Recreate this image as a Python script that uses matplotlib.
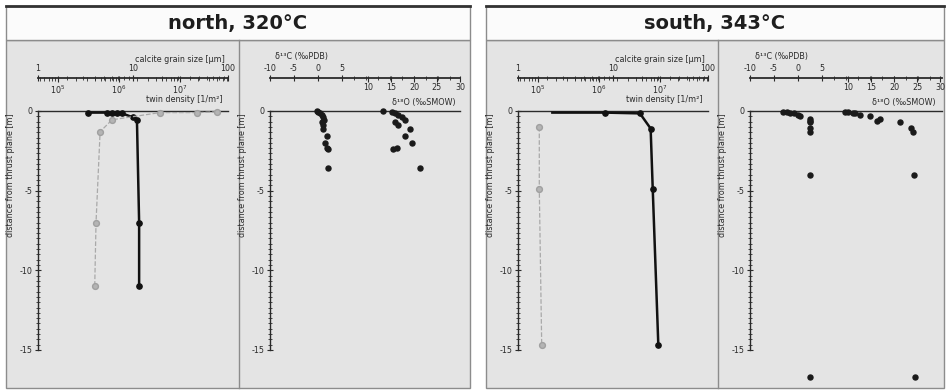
import matplotlib
matplotlib.use('Agg')
import matplotlib.pyplot as plt
from matplotlib.patches import Rectangle
from matplotlib.ticker import FixedLocator, LogLocator, NullLocator, NullFormatter
import numpy as np

# ---------------- data ----------------
# north, 320 °C : calcite grain size [µm] (black) and twin density (gray)
north_gs_depth = [-0.1, -0.1, -0.1, -0.15, -0.15, -0.4, -0.55, -7.0, -11.0]
north_gs_value = [3.4, 5.3, 6.0, 6.8, 7.7, 10.0, 11.0, 11.6, 11.6]
north_td_depth = [-0.05, -0.1, -0.1, -0.55, -1.3, -7.0, -11.0]
north_td_value = [4.0e7, 1.9e7, 4.7e6, 7.7e5, 4.9e5, 4.2e5, 4.0e5]

# south, 343 °C
south_gs_depth = [-0.1, -0.1, -0.15, -1.1, -4.9, -14.7]
south_gs_value = [2.3, 8.2, 19.2, 24.9, 26.2, 30.0]
south_td_depth = [-1.0, -4.9, -14.7]
south_td_value = [1.05e5, 1.05e5, 1.15e5]

# stable isotopes
north_iso_depth = [0.0, -0.05, -0.15, -0.25, -0.35, -0.55, -0.67, -0.87, -1.1, -1.6, -2.0, -2.3, -2.4, -3.6]
north_d13C = [-0.3, 0.1, 0.4, 0.8, 1.1, 1.3, 0.9, 1.0, 1.1, 1.8, 1.5, 1.8, 2.1, 2.1]
north_d18O = [13.3, 15.2, 15.9, 16.6, 17.3, 18.0, 15.9, 16.6, 19.1, 18.0, 19.5, 16.2, 15.5, 21.3]

south_iso_depth = [-0.05, -0.05, -0.1, -0.15, -0.25, -0.3, -0.5, -0.65, -0.7, -1.05, -1.3, -4.0, -16.7]
south_d13C = [-3.1, -2.2, -1.7, -0.8, 0.0, 0.5, 2.5, 2.5, 2.5, 2.5, 2.5, 2.5, 2.5]
south_d18O = [9.3, 10.1, 11.5, 11.0, 12.6, 14.8, 17.0, 16.2, 21.3, 23.8, 24.2, 24.3, 24.6]

titles = ["north, 320°C", "south, 343°C"]
gs_ticks = [1, 10, 100]
gs_ticklabels = ["1", "10", "100"]
td_ticks = [1e5, 1e6, 1e7]
td_ticklabels = [r"$10^5$", r"$10^6$", r"$10^7$"]
d13C_ticks = [-10, -5, 0, 5]
d18O_ticks = [10, 15, 20, 25, 30]
depth_ticks = [0, -5, -10, -15]
depth_ticklabels = ["0", "-5", "-10", "-15"]

# ---------------- layout ----------------
W, H = 946, 390
fig = plt.figure(figsize=(W / 100, H / 100), dpi=100)
plt.rcParams['font.family'] = ['DejaVu Sans']

def fb(x0, y0, x1, y1):
    return [x0 / W, 1 - y1 / H, (x1 - x0) / W, (y1 - y0) / H]

bg = fig.add_axes([0, 0, 1, 1])
bg.set_xlim(0, W)
bg.set_ylim(H, 0)
bg.axis('off')

Y0 = 111      # depth 0 (px)
YB = 386      # bottom of depth axes (px)
YLIM = (-17.26, 0)
YS = 78       # scale line (px)
TD_LIM = (10 ** 4.672, 10 ** 7.787)
LC = '#2a2a2a'
FS = 5.8

panels = [(6, 470, 239), (486, 944, 718)]
for (x0, x1, xs), title in zip(panels, titles):
    bg.add_patch(Rectangle((x0, 40), x1 - x0, 348, facecolor='#e4e4e4', edgecolor='#8c8c8c', lw=1))
    bg.add_patch(Rectangle((x0, 6), x1 - x0, 34, facecolor='#fbfbfb', edgecolor='#8c8c8c', lw=1))
    bg.plot([x0, x1], [6, 6], color='#333333', lw=2)
    bg.plot([xs, xs], [40, 388], color='#8c8c8c', lw=1)
    bg.text((x0 + x1) / 2, 24, title, ha='center', va='center', fontsize=14,
            fontweight='bold', color='#1e1e1e')


def depth_axes(xa, w, xlim, twin_lim, xscale='linear'):
    ax = fig.add_axes(fb(xa, Y0, xa + w, YB))
    t = ax.twiny()
    ax.patch.set_visible(False)
    ax.set_xscale(xscale)
    ax.set_xlim(*xlim)
    ax.set_ylim(*YLIM)
    for s in ['right', 'bottom']:
        ax.spines[s].set_visible(False)
    ax.spines['left'].set_bounds(-15, 0)
    ax.spines['left'].set_color(LC)
    ax.spines['top'].set_color(LC)
    ax.spines['left'].set_linewidth(1.0)
    ax.spines['top'].set_linewidth(1.0)
    ax.set_yticks(depth_ticks)
    ax.set_yticklabels(depth_ticklabels)
    ax.yaxis.set_minor_locator(FixedLocator(np.arange(0, -15.01, -1 / 3)))
    ax.tick_params(axis='y', which='major', direction='inout', length=4, width=0.8,
                   labelsize=FS, pad=2, colors=LC)
    ax.tick_params(axis='y', which='minor', direction='inout', length=2.5, width=0.6, colors=LC)
    ax.xaxis.set_major_locator(NullLocator())
    ax.xaxis.set_minor_locator(NullLocator())
    ax.tick_params(axis='x', which='both', top=False, bottom=False, labeltop=False, labelbottom=False)
    ax.set_ylabel('distance from thrust plane [m]', fontsize=FS, color=LC)
    ax.yaxis.set_label_coords(-23 / w, 0.767)
    # hidden twin for the second quantity
    t.set_xscale(xscale)
    t.set_xlim(*twin_lim)
    for s in t.spines.values():
        s.set_visible(False)
    t.xaxis.set_major_locator(NullLocator())
    t.xaxis.set_minor_locator(NullLocator())
    t.tick_params(axis='x', which='both', top=False, bottom=False, labeltop=False, labelbottom=False)
    return ax, t


def scale_axes(xa, w, xlim_top, xlim_bot, top_ticks, top_labels, bot_ticks, bot_labels,
               xscale='linear', top_minor=None, bot_minor=None):
    a = fig.add_axes(fb(xa, YS - 0.5, xa + w, YS + 0.5))
    b = a.twiny()
    a.patch.set_visible(False)
    a.set_xscale(xscale)
    a.set_xlim(*xlim_top)
    a.set_yticks([])
    for s in ['left', 'right', 'bottom']:
        a.spines[s].set_visible(False)
    a.spines['top'].set_color(LC)
    a.spines['top'].set_linewidth(1.3)
    a.set_xticks(top_ticks)
    a.set_xticklabels(top_labels)
    if top_minor is not None:
        a.xaxis.set_minor_locator(top_minor)
        a.xaxis.set_minor_formatter(NullFormatter())
    else:
        a.xaxis.set_minor_locator(NullLocator())
    a.tick_params(axis='x', which='both', top=True, bottom=False, labeltop=True, labelbottom=False)
    a.tick_params(axis='x', which='major', direction='inout', length=4, width=0.8,
                  labelsize=FS, pad=1.5, colors=LC)
    a.tick_params(axis='x', which='minor', direction='inout', length=2.5, width=0.6, colors=LC)

    b.set_xscale(xscale)
    b.set_xlim(*xlim_bot)
    for s in b.spines.values():
        s.set_visible(False)
    b.set_xticks(bot_ticks)
    b.set_xticklabels(bot_labels)
    if bot_minor is not None:
        b.xaxis.set_minor_locator(bot_minor)
        b.xaxis.set_minor_formatter(NullFormatter())
    else:
        b.xaxis.set_minor_locator(NullLocator())
    b.tick_params(axis='x', which='both', top=False, bottom=True, labeltop=False, labelbottom=True)
    b.tick_params(axis='x', which='major', direction='inout', length=4, width=0.8,
                  labelsize=FS, pad=1.5, colors=LC)
    b.tick_params(axis='x', which='minor', direction='inout', length=2.5, width=0.6, colors=LC)
    return a, b


gs_sets = [(38, north_gs_depth, north_gs_value, north_td_depth, north_td_value, slice(0, None)),
           (518, south_gs_depth, south_gs_value, south_td_depth, south_td_value, slice(1, None))]
for xa, gd, gv, td, tv, mk in gs_sets:
    w = 190
    ax, axt = depth_axes(xa, w, (1, 100), TD_LIM, 'log')
    ax.plot(gv, gd, '-o', color='#111111', lw=1.8, ms=3.8, markevery=mk, clip_on=False, zorder=5)
    axt.plot(tv, td, '--o', color='#a9a9a9', lw=0.9, ms=4.2, mfc='#b4b4b4', mec='#a0a0a0',
             clip_on=False, zorder=4)
    scale_axes(xa, w, (1, 100), TD_LIM, gs_ticks, gs_ticklabels, td_ticks, td_ticklabels,
               xscale='log', top_minor=LogLocator(base=10, subs=np.arange(2, 10)),
               bot_minor=LogLocator(base=10, subs=np.arange(2, 10)))
    bg.text(xa + 187, 60, 'calcite grain size [µm]', ha='right', va='center', fontsize=FS, color=LC)
    bg.text(xa + 185, 99, 'twin density [1/m²]', ha='right', va='center', fontsize=FS, color=LC)

iso_sets = [(270, 190, north_iso_depth, north_d13C, north_d18O),
            (750, 192, south_iso_depth, south_d13C, south_d18O)]
for xa, w, dep, c13, o18 in iso_sets:
    c_lim = (-10, -10 + w / 4.8)
    o_lim = (10 - (98) / 4.6, 10 + (w - 98) / 4.6)
    ax, ax2 = depth_axes(xa, w, c_lim, o_lim)
    ax.plot(c13, dep, 'o', color='#1a1a1a', ms=3.6, clip_on=False, zorder=5)
    ax2.plot(o18, dep, 'o', color='#1a1a1a', ms=3.6, clip_on=False, zorder=5)
    scale_axes(xa, w, c_lim, o_lim, d13C_ticks, [str(v) for v in d13C_ticks],
               d18O_ticks, [str(v) for v in d18O_ticks],
               top_minor=FixedLocator([7.5, 10, 12.5, 15, 17.5, 20, 22.5, 25, 27.5]))
    bg.text(xa + 5, 56, 'δ¹³C (‰PDB)', ha='left', va='center', fontsize=FS, color=LC)
    bg.text(xa + 186, 102, 'δ¹⁸O (‰SMOW)', ha='right', va='center', fontsize=FS, color=LC)

fig.savefig('out.png', dpi=100)
